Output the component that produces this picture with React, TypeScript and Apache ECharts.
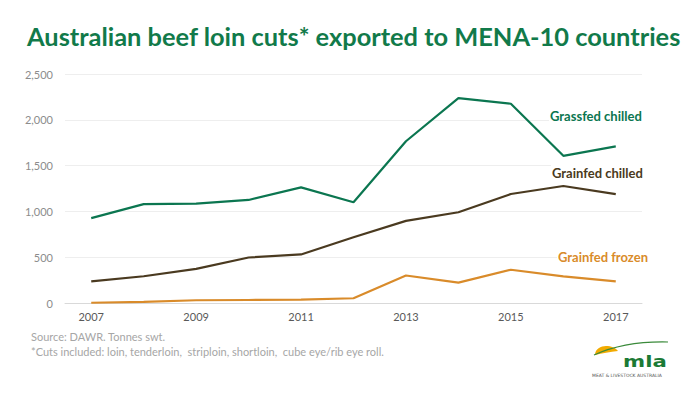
import React, { useEffect, useRef } from "react";
import * as echarts from "echarts";

const years = ["2007", "2008", "2009", "2010", "2011", "2012", "2013", "2014", "2015", "2016", "2017"];
const grassfedChilled = [926, 1080, 1085, 1125, 1262, 1100, 1766, 2237, 2175, 1607, 1710];
const grainfedChilled = [237, 292, 372, 497, 530, 718, 897, 991, 1190, 1277, 1188];
const grainfedFrozen = [3, 13, 30, 33, 36, 52, 300, 222, 363, 290, 236];
const yTicks = { min: 0, max: 2500, interval: 500 };

const GREEN = "#0b7650";
const BROWN = "#4a3a20";
const ORANGE = "#d98b2a";

echarts.graphic.registerShape(
  "mlaDome",
  echarts.graphic.extendPath("M0,9 C0,3 6,0 11,0 C16,0 21,2 23,5 C15,6 7,7 0,9 Z", {})
);

export default function App() {
  const ref = useRef<HTMLDivElement>(null);
  useEffect(() => {
    if (!ref.current) return;
    const chart = echarts.init(ref.current, undefined, { renderer: "svg" });
    const fmt = (v: number) => v.toLocaleString("en-US");
    chart.setOption({
      animation: false,
      backgroundColor: "#ffffff",
      grid: { left: 65, right: 58, top: 74, bottom: 91, containLabel: false },
      xAxis: {
        type: "category",
        data: years,
        boundaryGap: true,
        axisTick: { show: false },
        axisLine: { show: true, lineStyle: { color: "#d9d9d9", width: 1 } },
        axisLabel: {
          interval: 1,
          color: "#595959",
          fontFamily: "Lato",
          fontSize: 11,
          margin: 8,
        },
      },
      yAxis: {
        type: "value",
        min: yTicks.min,
        max: yTicks.max,
        interval: yTicks.interval,
        axisLine: { show: false },
        axisTick: { show: false },
        splitLine: { lineStyle: { color: "#eeeeee", width: 1 } },
        axisLabel: {
          color: "#8c8c8c",
          fontFamily: "Lato",
          fontSize: 11,
          margin: 12,
          formatter: fmt,
        },
      },
      series: [
        {
          name: "Grassfed chilled",
          type: "line",
          data: grassfedChilled,
          showSymbol: false,
          symbol: "none",
          lineStyle: { color: GREEN, width: 2.2 },
          itemStyle: { color: GREEN },
        },
        {
          name: "Grainfed chilled",
          type: "line",
          data: grainfedChilled,
          showSymbol: false,
          symbol: "none",
          lineStyle: { color: BROWN, width: 2.2 },
          itemStyle: { color: BROWN },
        },
        {
          name: "Grainfed frozen",
          type: "line",
          data: grainfedFrozen,
          showSymbol: false,
          symbol: "none",
          lineStyle: { color: ORANGE, width: 2.2 },
          itemStyle: { color: ORANGE },
        },
      ],
      graphic: [
        {
          type: "text",
          left: 27,
          top: 23,
          style: {
            text: "Australian beef loin cuts* exported to MENA-10 countries",
            fill: "#117a4a",
            font: "bold 25.4px Lato",
          },
        },
        {
          type: "text",
          left: 549,
          top: 108,
          z: 10,
          style: {
            text: "Grassfed chilled",
            fill: GREEN,
            font: "bold 13px Lato",
            backgroundColor: "#ffffff",
            padding: [1, 1],
          },
        },
        {
          type: "text",
          left: 551,
          top: 165,
          z: 10,
          style: {
            text: "Grainfed chilled",
            fill: BROWN,
            font: "bold 13px Lato",
            backgroundColor: "#ffffff",
            padding: [1, 1],
          },
        },
        {
          type: "text",
          left: 557,
          top: 249,
          z: 10,
          style: {
            text: "Grainfed frozen",
            fill: ORANGE,
            font: "bold 13px Lato",
            backgroundColor: "#ffffff",
            padding: [1, 1],
          },
        },
        {
          type: "text",
          left: 31,
          top: 331,
          style: { text: "Source: DAWR. Tonnes swt.", fill: "#a6a6a6", font: "11px Lato" },
        },
        {
          type: "text",
          left: 31,
          top: 346,
          style: {
            text: "*Cuts included: loin, tenderloin,  striploin, shortloin,  cube eye/rib eye roll.",
            fill: "#a6a6a6",
            font: "11px Lato",
          },
        },
        {
          type: "mlaDome",
          x: 595,
          y: 346,
          style: { fill: "#f2ab00" },
        },
        {
          type: "bezierCurve",
          shape: { x1: 594, y1: 355, cpx1: 625, cpy1: 341, x2: 668, y2: 342 },
          style: { stroke: "#3a8a3a", lineWidth: 1.2, fill: "none" },
        },
        {
          type: "text",
          x: 623,
          y: 354,
          scaleX: 1.33,
          style: {
            text: "mla",
            fill: "#1b7a35",
            font: "bold 16px 'DejaVu Sans'",
            verticalAlign: "top",
            lineHeight: 15,
          },
        },
        {
          type: "text",
          x: 592,
          y: 373,
          style: {
            text: "MEAT & LIVESTOCK AUSTRALIA",
            fill: "#555555",
            font: "4.5px 'DejaVu Sans'",
            verticalAlign: "top",
          },
        },
      ],
    });
    return () => chart.dispose();
  }, []);
  return <div ref={ref} style={{ width: 700, height: 394, position: "absolute", left: 0, top: 0 }} />;
}
